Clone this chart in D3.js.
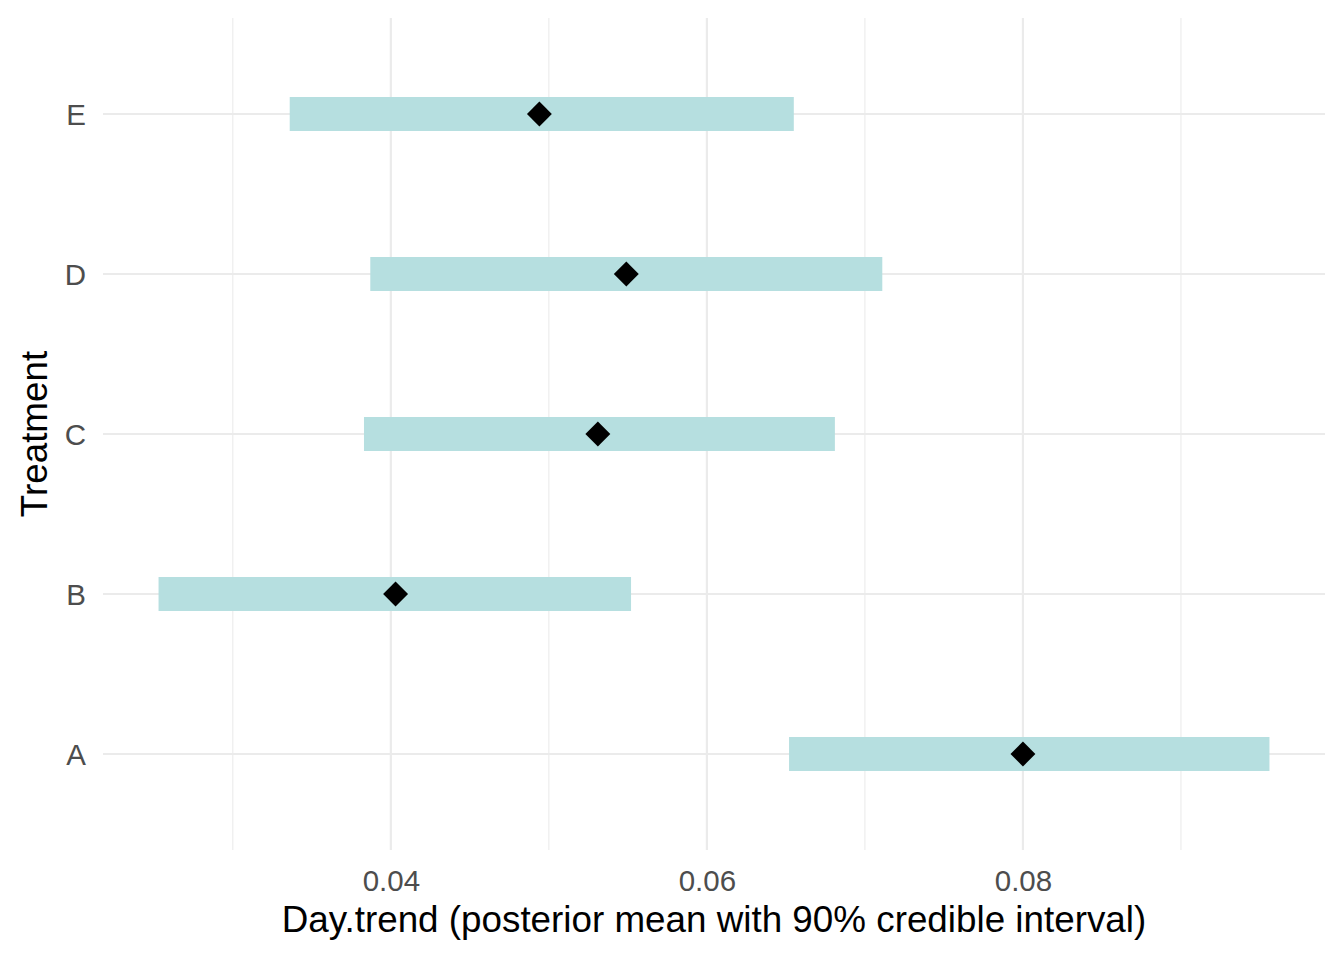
<!DOCTYPE html>
<html>
<head>
<meta charset="utf-8">
<script src="https://cdn.jsdelivr.net/npm/d3@7"></script>
<style>
  body { margin: 0; background: #fff; }
  text { font-family: "Liberation Sans", Arial, sans-serif; }
</style>
</head>
<body>
<div id="chart"></div>
<script>
// data
var treatments = ["A", "B", "C", "D", "E"];
var lower = [0.0652, 0.0253, 0.0383, 0.0387, 0.0336];
var upper = [0.0956, 0.0552, 0.0681, 0.0711, 0.0655];
var means = [0.0800, 0.0403, 0.0531, 0.0549, 0.0494];
var xTicks = [0.04, 0.06, 0.08];
var xMinor = [0.03, 0.05, 0.07, 0.09];

var svgWidth = 1344;
var svgHeight = 960;

var margin = { top: 18, right: 19, bottom: 110, left: 103 };
var width = svgWidth - margin.left - margin.right;
var height = svgHeight - margin.top - margin.bottom;

var rows = treatments.map(function(t, i) {
    return { name: t, lo: lower[i], hi: upper[i], mean: means[i] };
});

var svg = d3.select("#chart")
    .append("svg")
    .attr("width", svgWidth)
    .attr("height", svgHeight);

var chartGroup = svg.append("g")
    .attr("transform", `translate(${margin.left}, ${margin.top})`);

// ggplot-style 5% expansion
var xmin = d3.min(lower), xmax = d3.max(upper);
var pad = (xmax - xmin) * 0.05;
var xScale = d3.scaleLinear()
    .domain([xmin - pad, xmax + pad])
    .range([0, width]);

var yScale = d3.scalePoint()
    .domain(treatments)
    .range([height, 0])
    .padding(0.6);

// gridlines
chartGroup.selectAll(".minor")
    .data(xMinor)
    .enter()
    .append("line")
    .attr("x1", d => xScale(d))
    .attr("x2", d => xScale(d))
    .attr("y1", 0)
    .attr("y2", height)
    .attr("stroke", "#ebebeb")
    .attr("stroke-width", 1.1);

chartGroup.selectAll(".major")
    .data(xTicks)
    .enter()
    .append("line")
    .attr("x1", d => xScale(d))
    .attr("x2", d => xScale(d))
    .attr("y1", 0)
    .attr("y2", height)
    .attr("stroke", "#ebebeb")
    .attr("stroke-width", 2.2);

chartGroup.selectAll(".hgrid")
    .data(treatments)
    .enter()
    .append("line")
    .attr("x1", 0)
    .attr("x2", width)
    .attr("y1", d => yScale(d))
    .attr("y2", d => yScale(d))
    .attr("stroke", "#ebebeb")
    .attr("stroke-width", 2.2);

// intervals
var barH = 34;
chartGroup.selectAll(".bar")
    .data(rows)
    .enter()
    .append("rect")
    .attr("x", d => xScale(d.lo))
    .attr("width", d => xScale(d.hi) - xScale(d.lo))
    .attr("y", d => yScale(d.name) - barH / 2)
    .attr("height", barH)
    .attr("fill", "#b6dfe0");

// means
var diamond = d3.symbol().type(d3.symbolSquare).size(310);
chartGroup.selectAll(".pt")
    .data(rows)
    .enter()
    .append("path")
    .attr("d", diamond)
    .attr("transform", d => `translate(${xScale(d.mean)}, ${yScale(d.name)}) rotate(45)`)
    .attr("fill", "#000");

// axes
var bottomAxis = d3.axisBottom(xScale).tickValues(xTicks).tickSize(0).tickPadding(20)
    .tickFormat(d3.format(".2f"));
var leftAxis = d3.axisLeft(yScale).tickSize(0).tickPadding(17);

var gx = chartGroup.append("g")
    .attr("transform", `translate(0, ${height})`)
    .call(bottomAxis);
var gy = chartGroup.append("g")
    .call(leftAxis);

[gx, gy].forEach(function(g) {
    g.select(".domain").remove();
    g.selectAll("text")
        .attr("fill", "#4d4d4d")
        .style("font-size", "29.5px")
        .style("font-family", "'Liberation Sans', Arial, sans-serif");
});
gx.selectAll("text").attr("dy", "0.71em");
gy.selectAll("text").attr("dy", "0.35em");

// axis labels
chartGroup.append("text")
    .attr("transform", "rotate(-90)")
    .attr("x", -height / 2)
    .attr("y", -56)
    .attr("text-anchor", "middle")
    .style("font-size", "36.8px")
    .text("Treatment");

chartGroup.append("text")
    .attr("x", width / 2)
    .attr("y", height + 82)
    .attr("text-anchor", "middle")
    .style("font-size", "36.8px")
    .text("Day.trend (posterior mean with 90% credible interval)");
</script>
</body>
</html>
